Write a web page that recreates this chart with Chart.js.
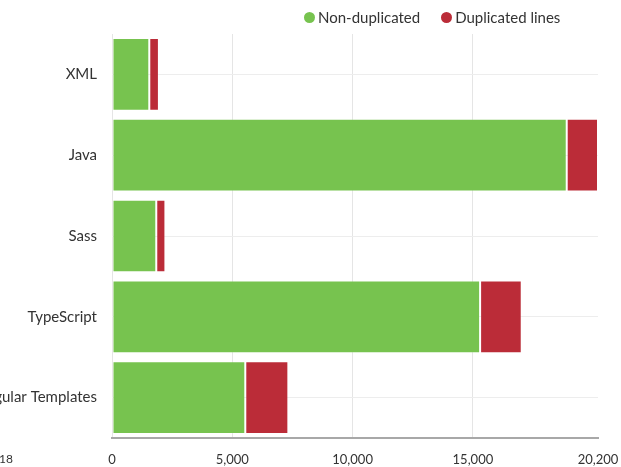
<!DOCTYPE html>
<html>
<head>
<meta charset="utf-8">
<title>Lines by language</title>
<script src="https://cdn.jsdelivr.net/npm/chart.js@4/dist/chart.umd.min.js"></script>
<style>
  body { margin: 0; background: #fff; font-family: Lato, sans-serif; }
  #wrap { position: relative; width: 621px; height: 467px; overflow: hidden; }
  #legend {
    position: absolute; left: 304px; top: 8px;
    display: flex; align-items: center;
    font-size: 15px; color: #333; white-space: nowrap;
  }
  #legend .item { display: flex; align-items: center; margin-right: 21px; }
  #legend .dot { width: 11px; height: 11px; border-radius: 50%; margin-right: 3px; }
  #corner { position: absolute; left: -1px; top: 451px; font-size: 12px; color: #333; }
</style>
</head>
<body>
<div id="wrap">
  <canvas id="langChart"></canvas>
  <div id="legend"></div>
  <div id="corner">18</div>
</div>
<script>
// languages shown on the y axis
const languages = ['XML', 'Java', 'Sass', 'TypeScript', 'Angular Templates'];

// line counts per language
const nonDuplicated = [1550, 18900, 1840, 15300, 5540];
const duplicated    = [400, 1300, 380, 1730, 1790];

// x axis ticks, the last one is the largest total
const xTicks = [0, 5000, 10000, 15000, 20200];
const xMax = xTicks[xTicks.length - 1];

const green = '#77c34f';
const red   = '#bb2c38';

Chart.defaults.font.family = 'Lato, sans-serif';
Chart.defaults.color = '#333';

function buildChart() {
  const ctx = document.getElementById('langChart');

  const chart = new Chart(ctx, {
    type: 'bar',
    data: {
      labels: languages,
      datasets: [
        { label: 'Non-duplicated',   data: nonDuplicated, backgroundColor: green },
        { label: 'Duplicated lines', data: duplicated,    backgroundColor: red }
      ]
    },
    options: {
      indexAxis: 'y',
      responsive: true,
      maintainAspectRatio: false,
      animation: false,
      layout: { padding: { top: 34, right: 23, bottom: 1, left: 0 } },
      datasets: {
        bar: {
          categoryPercentage: 1,
          barPercentage: 0.9,
          borderWidth: 1,
          borderColor: 'rgba(255,255,255,0.2)',
          borderSkipped: false
        }
      },
      scales: {
        x: {
          stacked: true,
          min: 0,
          max: xMax,
          ticks: { padding: 14, font: { size: 13 }, color: '#333' },
          afterBuildTicks: (scale) => { scale.ticks = xTicks.map((v) => ({ value: v })); },
          afterFit: (scale) => {
            scale.height = 28;
            // let the end labels hang over, the layout padding covers them
            scale.paddingLeft = 0;
            scale.paddingRight = 0;
          },
          grid: {
            drawTicks: false,
            // no grid line on the last tick
            color: (c) => (c.tick && c.tick.value === xMax) ? 'rgba(0,0,0,0)' : '#e5e5e5'
          },
          border: { color: '#a8a8a8', width: 2 }
        },
        y: {
          stacked: true,
          ticks: { padding: 15, font: { size: 15 }, color: '#333' },
          grid: { offset: false, drawTicks: false, color: '#ededed' },
          border: { display: false },
          afterFit: (scale) => { scale.width = 112; }
        }
      },
      plugins: {
        legend: { display: false },
        tooltip: { enabled: false }
      }
    }
  });

  // simple html legend from the datasets
  const legend = document.getElementById('legend');
  legend.innerHTML = chart.data.datasets.map((ds) =>
    `<span class="item"><span class="dot" style="background:${ds.backgroundColor}"></span>${ds.label}</span>`
  ).join('');
}

document.addEventListener('DOMContentLoaded', buildChart);
</script>
</body>
</html>
